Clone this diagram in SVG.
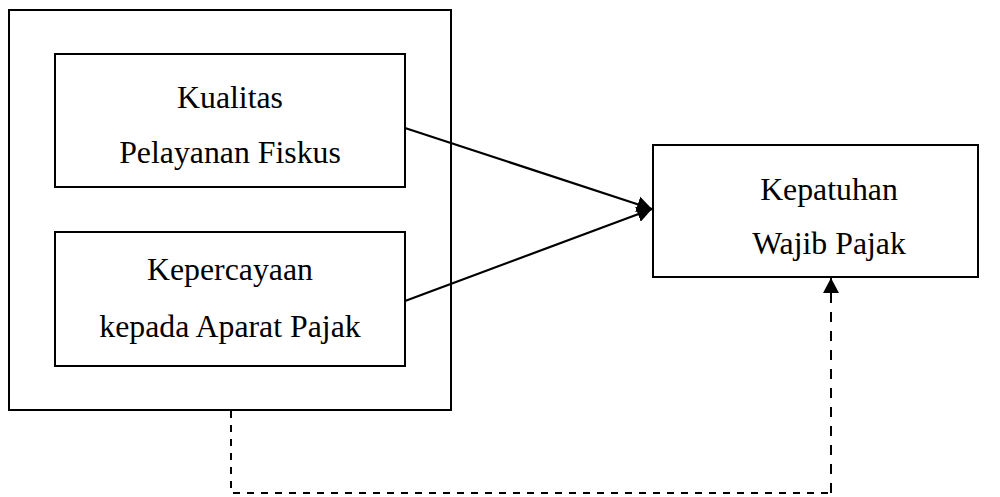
<svg xmlns="http://www.w3.org/2000/svg" width="1000" height="497" viewBox="0 0 1000 497">
<style>
.box{fill:#fff;stroke:#000;stroke-width:2}
.lbl{font-family:'Liberation Serif','Times New Roman',serif;font-size:31.8px;fill:#000;text-anchor:middle}
.conn{fill:none;stroke:#000;stroke-width:2.2}
.dash{fill:none;stroke:#000;stroke-width:2;stroke-dasharray:7 7}
.dash2{fill:none;stroke:#000;stroke-width:2;stroke-dasharray:10 9}
</style>
<defs>
<marker id="arr" markerUnits="userSpaceOnUse" markerWidth="16" markerHeight="16" refX="15" refY="8" orient="auto">
<path d="M0,0 L15,8 L0,16 z" fill="#000"/>
</marker>
</defs>
<rect width="1000" height="497" fill="#fff"/>
<g id="outer"><rect class="box" x="9" y="10" width="442" height="400"/></g>
<g id="kualitas">
<rect class="box" x="55" y="54" width="350" height="133"/>
<text class="lbl" x="230" y="108">Kualitas</text>
<text class="lbl" x="230" y="163">Pelayanan Fiskus</text>
</g>
<g id="kepercayaan">
<rect class="box" x="55" y="232" width="350" height="134"/>
<text class="lbl" x="230" y="280">Kepercayaan</text>
<text class="lbl" x="230" y="337">kepada Aparat Pajak</text>
</g>
<g id="kepatuhan">
<rect class="box" x="653" y="145" width="325" height="132"/>
<text class="lbl" x="829" y="200">Kepatuhan</text>
<text class="lbl" x="829" y="254">Wajib Pajak</text>
</g>
<g id="connectors">
<path class="conn" d="M405,128 L652,209" marker-end="url(#arr)"/>
<path class="conn" d="M405,301 L652,209" marker-end="url(#arr)"/>
<path class="dash" d="M231,411 V493 H831"/>
<path class="dash2" d="M831,493 V278" marker-end="url(#arr)"/>
</g>
</svg>
